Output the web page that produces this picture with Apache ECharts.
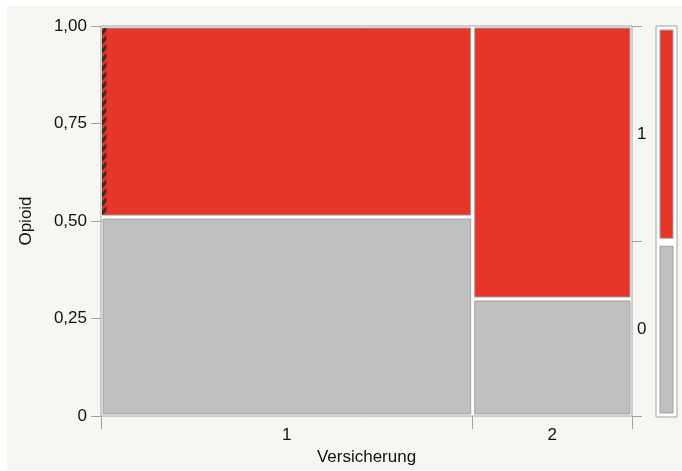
<!DOCTYPE html>
<html>
<head>
<meta charset="utf-8">
<script src="https://cdn.jsdelivr.net/npm/echarts@6/dist/echarts.min.js"></script>
<style>
html,body{margin:0;padding:0;background:#fff;}
#chart{width:682px;height:471px;}
</style>
</head>
<body>
<div id="chart"></div>
<script>
// ---- data ----
const versicherung = ['1', '2'];          // x categories
const opioid = ['0', '1'];                // y categories (bottom -> top)
const colShare = [0.70, 0.30];            // share of each Versicherung
const share0 = [0.51, 0.30];              // share of Opioid = 0 inside each Versicherung
const margin0 = 0.447;                    // overall share of Opioid = 0
const hatchShare = [0.0145, 0];           // hatched (selected) fraction inside Opioid = 1 cell
const yTicks = [0, 0.25, 0.5, 0.75, 1];

const RED = '#e8352a', GRAY = '#c0c0c0', EDGE = '#a2a2a2';
const FONT = 'Liberation Sans';

// build mosaic cells from data
const cells = [];
const hatch = [];
let acc = 0;
const colBounds = [0];
versicherung.forEach((v, i) => {
  const x0 = acc, x1 = acc + colShare[i];
  cells.push([x0, 0, x1, share0[i], 0]);
  cells.push([x0, share0[i], x1, 1, 1]);
  if (hatchShare[i] > 0) hatch.push([x0, share0[i], x0 + hatchShare[i] * colShare[i], 1]);
  acc = x1;
  colBounds.push(acc);
});
const colCenters = versicherung.map((v, i) => (colBounds[i] + colBounds[i + 1]) / 2);
const margCells = [[0, 0, 1, margin0, 0], [0, margin0, 1, 1, 1]];
const margCenters = [margin0 / 2, (margin0 + 1) / 2];

// hatch pattern
const pc = document.createElement('canvas');
pc.width = 9; pc.height = 9;
const g = pc.getContext('2d');
g.fillStyle = '#cf392b'; g.fillRect(0, 0, 9, 9);
g.strokeStyle = '#3e2a25'; g.lineWidth = 3.4;
[-9, 0, 9].forEach(k => { g.beginPath(); g.moveTo(k, 9); g.lineTo(k + 9, 0); g.stroke(); });

function cellRenderer(inset) {
  return function (params, api) {
    const p0 = api.coord([api.value(0), api.value(3)]);
    const p1 = api.coord([api.value(2), api.value(1)]);
    return {
      type: 'rect',
      shape: { x: p0[0] + inset, y: p0[1] + inset, width: p1[0] - p0[0] - 2 * inset, height: p1[1] - p0[1] - 2 * inset },
      style: { fill: api.value(4) === 1 ? RED : GRAY, stroke: EDGE, lineWidth: 1 }
    };
  };
}

const chart = echarts.init(document.getElementById('chart'), null, { renderer: 'canvas' });
const txt = { color: '#111111', fontFamily: FONT, fontSize: 17 };

chart.setOption({
  backgroundColor: '#ffffff',
  animation: false,
  graphic: [{
    type: 'rect', z: -10, silent: true,
    shape: { x: 7, y: 6, width: 675, height: 464 },
    style: { fill: '#f6f6f2' }
  }],
  grid: [
    { left: 101, right: 50, top: 26, bottom: 55, show: true, backgroundColor: '#ffffff', borderColor: EDGE, borderWidth: 1 },
    { left: 656, right: 5, top: 26, bottom: 54, show: true, backgroundColor: '#ffffff', borderColor: EDGE, borderWidth: 1 }
  ],
  xAxis: [
    {
      gridIndex: 0, type: 'value', min: 0, max: 1,
      name: 'Versicherung', nameLocation: 'middle', nameGap: 31,
      nameTextStyle: txt,
      axisLine: { show: false },
      splitLine: { show: false },
      axisTick: { show: true, length: 13, customValues: colBounds, lineStyle: { color: EDGE } },
      axisLabel: Object.assign({
        customValues: colCenters, margin: 11,
        formatter: v => versicherung[colCenters.findIndex(c => Math.abs(c - v) < 1e-6)]
      }, txt)
    },
    { gridIndex: 1, type: 'value', min: 0, max: 1, show: false }
  ],
  yAxis: [
    {
      gridIndex: 0, type: 'value', min: 0, max: 1, interval: 0.25,
      name: 'Opioid', nameLocation: 'middle', nameGap: 66, nameRotate: 90,
      nameTextStyle: txt,
      axisLine: { show: false },
      splitLine: { show: false },
      axisTick: { show: true, length: 10, customValues: yTicks, lineStyle: { color: EDGE } },
      axisLabel: Object.assign({
        customValues: yTicks, margin: 14,
        formatter: v => v === 0 ? '0' : v.toFixed(2).replace('.', ',')
      }, txt)
    },
    {
      gridIndex: 0, type: 'value', min: 0, max: 1, position: 'right',
      axisLine: { show: false },
      splitLine: { show: false },
      axisTick: { show: true, length: 10, customValues: [0, margin0, 1], lineStyle: { color: EDGE } },
      axisLabel: Object.assign({
        customValues: margCenters, margin: 5,
        formatter: v => opioid[margCenters.findIndex(c => Math.abs(c - v) < 1e-6)]
      }, txt)
    },
    { gridIndex: 1, type: 'value', min: 0, max: 1, show: false }
  ],
  series: [
    {
      type: 'custom', xAxisIndex: 0, yAxisIndex: 0,
      renderItem: cellRenderer(2),
      data: cells, silent: true
    },
    {
      type: 'custom', xAxisIndex: 0, yAxisIndex: 0, z: 3,
      renderItem: function (params, api) {
        const p0 = api.coord([api.value(0), api.value(3)]);
        const p1 = api.coord([api.value(2), api.value(1)]);
        return {
          type: 'rect',
          shape: { x: p0[0] + 1, y: p0[1] + 2, width: p1[0] - p0[0] - 1, height: p1[1] - p0[1] - 4 },
          style: { fill: { image: pc, repeat: 'repeat' } }
        };
      },
      data: hatch, silent: true
    },
    {
      type: 'custom', xAxisIndex: 1, yAxisIndex: 2,
      renderItem: cellRenderer(4),
      data: margCells, silent: true
    }
  ]
});
</script>
</body>
</html>
